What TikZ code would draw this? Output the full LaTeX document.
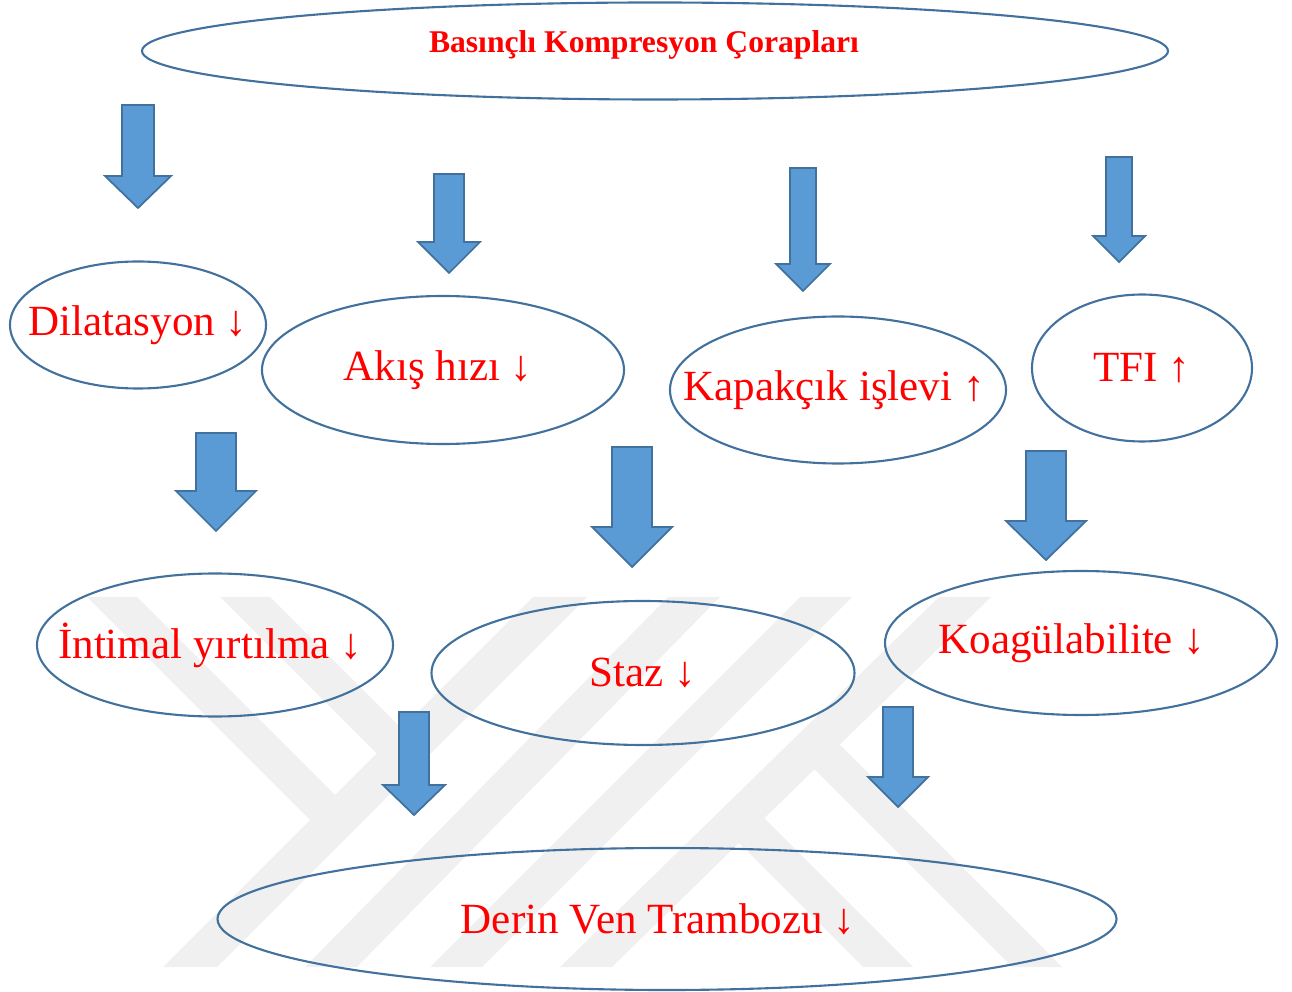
\documentclass[tikz,border=0pt]{standalone}
\usepackage{fontspec}
\setmainfont{Liberation Serif}
\usepackage{tikz}
\usetikzlibrary{shapes.geometric}

\definecolor{outline}{HTML}{41719C}
\definecolor{blockfill}{HTML}{5B9BD5}
\definecolor{markgray}{HTML}{F0F0F0}

\begin{document}
\begin{tikzpicture}[x=0.2mm, y=-0.2mm]
	\tikzstyle{Bubble}	= [draw=outline, line width=1.2pt, ellipse, inner sep=0pt, text=red, font=\fontsize{24.5}{28}\selectfont]
	\tikzstyle{Head}	= [font=\bfseries\fontsize{18}{22}\selectfont]
	\tikzstyle{Block}	= [fill=blockfill, draw=outline, line width=1pt, line join=miter]
	\tikzstyle{Mark}	= [fill=markgray]

	\useasboundingbox (0,0) rectangle (1292,992);

	% faint watermark behind the diagram
	\fill[Mark] (163,967) -- (217,967) -- (587,597) -- (533,597) -- cycle;
	\fill[Mark] (305,967) -- (357,967) -- (720,597) -- (668,597) -- cycle;
	\fill[Mark] (430,967) -- (482,967) -- (852,597) -- (800,597) -- cycle;
	\fill[Mark] (560,967) -- (612,967) -- (991,597) -- (939,597) -- cycle;
	\fill[Mark] (87,597) -- (137,597) -- (348.5,808.5) -- (323.5,833.5) -- cycle;
	\fill[Mark] (220,597) -- (270,597) -- (415,742) -- (390,767) -- cycle;
	\fill[Mark] (863,967) -- (913,967) -- (751.4,805.4) -- (726.1,830.1) -- cycle;
	\fill[Mark] (1012,967) -- (1062,967) -- (826.8,731.8) -- (801.5,756.5) -- cycle;

	\node (top) at (655,51) [Bubble][Head, minimum width=205.2mm, minimum height=19.4mm] {\makebox[0pt]{\raisebox{3.6mm}{Basınçlı Kompresyon Çorapları}\hspace{4.4mm}}};

	\node (dil) at (138,325) [Bubble, minimum width=51.2mm, minimum height=25.4mm] {\makebox[0pt]{Dilatasyon ↓}};
	\node (akis) at (443,370) [Bubble, minimum width=72.4mm, minimum height=29.6mm] {\makebox[0pt]{Akış hızı ↓\hspace{2mm}}};
	\node (kap) at (838,390) [Bubble, minimum width=67.2mm, minimum height=29.4mm] {\makebox[0pt]{Kapakçık işlevi ↑\hspace{1.6mm}}};
	\node (tfi) at (1142,368) [Bubble, minimum width=44mm, minimum height=29.4mm] {\makebox[0pt]{TFI ↑}};

	\node (int) at (215,645) [Bubble, minimum width=71.2mm, minimum height=28.6mm] {\makebox[0pt]{İntimal yırtılma ↓\hspace{2mm}}};
	\node (staz) at (643,673) [Bubble, minimum width=84.6mm, minimum height=28.8mm] {\makebox[0pt]{Staz ↓}};
	\node (koag) at (1081,643) [Bubble, minimum width=78.4mm, minimum height=28.8mm] {\makebox[0pt]{Koagülabilite ↓\hspace{3.6mm}}};

	\node (dvt) at (667,919) [Bubble, minimum width=179.8mm, minimum height=28.4mm] {\makebox[0pt]{Derin Ven Trambozu ↓\hspace{3.6mm}}};

	% block arrows
	\draw[Block] (122,105) -- (154,105) -- (154,176) -- (171,176) -- (138,208) -- (105,176) -- (122,176) -- cycle;
	\draw[Block] (434,174) -- (464,174) -- (464,242) -- (480,242) -- (449,273) -- (418,242) -- (434,242) -- cycle;
	\draw[Block] (790,168) -- (816,168) -- (816,264) -- (830,264) -- (803,291) -- (776,264) -- (790,264) -- cycle;
	\draw[Block] (1106,157) -- (1132,157) -- (1132,236) -- (1145,236) -- (1119,262) -- (1093,236) -- (1106,236) -- cycle;
	\draw[Block] (196,433) -- (236,433) -- (236,491) -- (256,491) -- (216,531) -- (176,491) -- (196,491) -- cycle;
	\draw[Block] (612,447) -- (652,447) -- (652,527) -- (672,527) -- (632,567) -- (592,527) -- (612,527) -- cycle;
	\draw[Block] (1026,451) -- (1066,451) -- (1066,521) -- (1086,521) -- (1046,560) -- (1006,521) -- (1026,521) -- cycle;
	\draw[Block] (399,712) -- (429,712) -- (429,785) -- (445,785) -- (414,815) -- (383,785) -- (399,785) -- cycle;
	\draw[Block] (883,707) -- (913,707) -- (913,777) -- (928,777) -- (898,807) -- (868,777) -- (883,777) -- cycle;
\end{tikzpicture}
\end{document}
